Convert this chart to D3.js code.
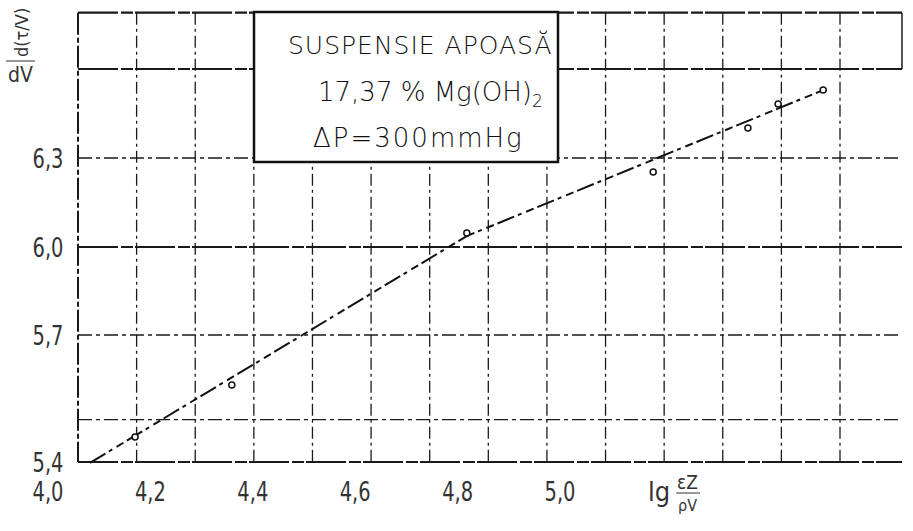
<!DOCTYPE html>
<html>
<head>
<meta charset="utf-8">
<script src="https://cdn.jsdelivr.net/npm/d3@7"></script>
<style>
  body { margin: 0; background: #fff; }
  svg { display: block; }
  .tick-label { font-family: 'Liberation Sans Narrow', 'DejaVu Sans Condensed', sans-serif; fill: #333; }
  .box-text { font-family: 'DejaVu Sans', sans-serif; font-weight: 200; fill: #111; }
</style>
</head>
<body>
<script>
// tick labels
const xTicks = [4.0, 4.2, 4.4, 4.6, 4.8, 5.0];
const xTickLabels = ['4,0', '4,2', '4,4', '4,6', '4,8', '5,0'];
const yTicks = [6.3, 6.0, 5.7, 5.4];
const yTickLabels = ['6,3', '6,0', '5,7', '5,4'];

// fitted line through the measurements
const lineX = [4.082, 4.818, 5.514];
const lineY = [5.398, 6.037, 6.529];

// measured points
const pointX = [4.170, 4.359, 4.818, 5.182, 5.367, 5.426, 5.514];
const pointY = [5.459, 5.582, 6.047, 6.253, 6.401, 6.482, 6.529];

// horizontal grid rows (y units) and paper columns
const gridRows = [6.79, 6.6, 6.3, 6.0, 5.7, 5.5, 5.4];
const gridRowHeavy = [true, true, false, true, false, false, true];
const gridCols = [0, 1, 2, 3, 4, 5, 6, 7, 8, 9, 10, 11, 12, 13];

const legendLines = ['SUSPENSIE APOASĂ', '17,37 % Mg(OH)', 'ΔP=300mmHg'];

const width = 913;
const height = 531;

const svg = d3.select('body').append('svg')
  .attr('width', width)
  .attr('height', height);

svg.append('rect').attr('width', width).attr('height', height).attr('fill', '#fff');

const x = d3.scaleLinear()
  .domain([4.0, 5.0])
  .range([48, 560]);

// the printed scale is not quite even, so a piecewise scale is used
const y = d3.scaleLinear()
  .domain([5.4, 5.7, 6.0, 6.3])
  .range([462, 335, 247, 158]);

const paper = d3.scaleLinear()
  .domain([0, 13])
  .range([78, 840]);

const plotLeft = 78;
const plotRight = 902;

// grid
const grid = svg.append('g').attr('stroke', '#1a1a1a').attr('fill', 'none');

grid.selectAll('line.row')
  .data(gridRows)
  .join('line')
  .attr('class', 'row')
  .attr('x1', plotLeft)
  .attr('x2', plotRight)
  .attr('y1', d => y(d))
  .attr('y2', d => y(d))
  .attr('stroke-width', (d, i) => gridRowHeavy[i] ? 2.2 : 1.3)
  .attr('stroke-dasharray', (d, i) => gridRowHeavy[i] ? '40,3,12,2' : '14,4,4,4');

grid.selectAll('line.col')
  .data(gridCols)
  .join('line')
  .attr('class', 'col')
  .attr('x1', d => paper(d))
  .attr('x2', d => paper(d))
  .attr('y1', y(6.79))
  .attr('y2', y(5.4))
  .attr('stroke-width', d => d === 0 ? 2 : 1.3)
  .attr('stroke-dasharray', d => d === 0 ? '22,3,5,3' : '12,4,3,4');

// right edge stub at the top
grid.append('line')
  .attr('x1', plotRight).attr('x2', plotRight)
  .attr('y1', y(6.79)).attr('y2', y(6.6))
  .attr('stroke-width', 1.5);

// fitted line
const line = d3.line()
  .x(d => x(d[0]))
  .y(d => y(d[1]));

svg.append('path')
  .datum(d3.zip(lineX, lineY))
  .attr('d', line)
  .attr('fill', 'none')
  .attr('stroke', '#111')
  .attr('stroke-width', 2)
  .attr('stroke-dasharray', '18,4,4,5,8,4');

// points
svg.append('g')
  .selectAll('circle')
  .data(d3.zip(pointX, pointY))
  .join('circle')
  .attr('cx', d => x(d[0]))
  .attr('cy', d => y(d[1]))
  .attr('r', 3)
  .attr('fill', '#fff')
  .attr('stroke', '#111')
  .attr('stroke-width', 1.5);

// legend box
const box = svg.append('g');
box.append('rect')
  .attr('x', 254)
  .attr('y', 12)
  .attr('width', 304)
  .attr('height', 150)
  .attr('fill', '#fff')
  .attr('stroke', '#111')
  .attr('stroke-width', 2.5);

box.append('text')
  .attr('class', 'box-text')
  .attr('x', 288).attr('y', 54)
  .style('font-size', '25px')
  .attr('letter-spacing', 1)
  .text(legendLines[0]);

const l2 = box.append('text')
  .attr('class', 'box-text')
  .attr('x', 318).attr('y', 101)
  .style('font-size', '26px')
  .text(legendLines[1]);
l2.append('tspan').style('font-size', '17px').attr('dy', 6).text('2');

box.append('text')
  .attr('class', 'box-text')
  .attr('x', 313).attr('y', 147)
  .style('font-size', '26px')
  .attr('letter-spacing', 2)
  .text(legendLines[2]);

// x tick labels, condensed like the stencil lettering
svg.append('g')
  .selectAll('text')
  .data(xTicks)
  .join('text')
  .attr('class', 'tick-label')
  .style('font-size', '27px')
  .attr('transform', d => `translate(${x(d)}, 501) scale(0.8, 1)`)
  .attr('text-anchor', 'middle')
  .text((d, i) => xTickLabels[i]);

// y tick labels
svg.append('g')
  .selectAll('text')
  .data(yTicks)
  .join('text')
  .attr('class', 'tick-label')
  .style('font-size', '27px')
  .attr('transform', d => `translate(48, ${y(d) + 10}) scale(0.8, 1)`)
  .attr('text-anchor', 'middle')
  .text((d, i) => yTickLabels[i]);

// axis titles
const xt = svg.append('g').attr('transform', 'translate(648, 501)');
xt.append('text').attr('class', 'tick-label').style('font-size', '27px').attr('x', 0).attr('y', 0).text('lg');
xt.append('text').attr('class', 'tick-label').style('font-size', '19px').attr('x', 29).attr('y', -12).text('εZ');
xt.append('line').attr('x1', 28).attr('x2', 52).attr('y1', -8).attr('y2', -8).attr('stroke', '#333');
xt.append('text').attr('class', 'tick-label').style('font-size', '16px').attr('x', 30).attr('y', 10).text('ρV');

const yt = svg.append('g').attr('transform', 'translate(4, 0)');
yt.append('text').attr('class', 'tick-label').style('font-size', '18px').attr('x', 24).attr('y', 57)
  .attr('transform', 'rotate(-90, 24, 57)').text('d(τ/V)');
yt.append('line').attr('x1', 2).attr('x2', 31).attr('y1', 61).attr('y2', 61).attr('stroke', '#333');
yt.append('text').attr('class', 'tick-label').style('font-size', '21px').attr('x', 4).attr('y', 82).text('dV');
</script>
</body>
</html>
